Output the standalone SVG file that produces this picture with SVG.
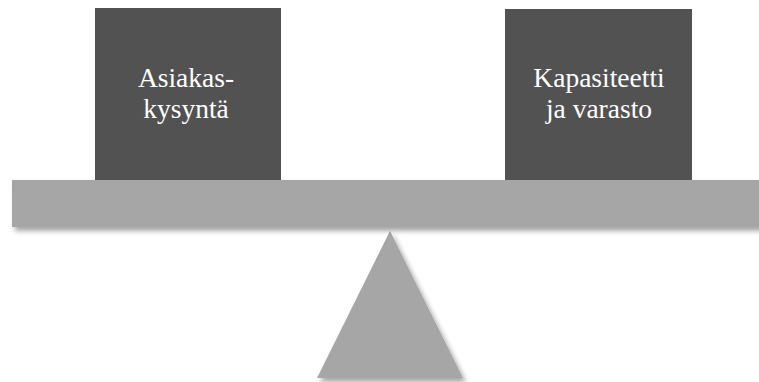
<svg xmlns="http://www.w3.org/2000/svg" width="759" height="382" viewBox="0 0 759 382">
<defs>
<style>
.box{fill:#525252}
.gray{fill:#a6a6a6}
.lbl{font-family:"Liberation Serif","Times New Roman",serif;font-size:27.5px;fill:#ffffff;text-anchor:middle}
</style>
<filter id="sh" x="-10%" y="-10%" width="130%" height="140%">
<feDropShadow dx="3" dy="4" stdDeviation="2.5" flood-color="#000" flood-opacity="0.35"/>
</filter>
</defs>
<g id="support">
<polygon class="gray" filter="url(#sh)" points="390,231 317,378 463,378"/>
</g>
<g id="beam">
<rect class="gray" filter="url(#sh)" x="12" y="180" width="750" height="47"/>
</g>
<g id="node-asiakaskysynta">
<rect class="box" x="95" y="8" width="186" height="172"/>
<text class="lbl" x="186" y="87">Asiakas-</text>
<text class="lbl" x="186" y="118">kysyntä</text>
</g>
<g id="node-kapasiteetti">
<rect class="box" x="505" y="9" width="187" height="171"/>
<text class="lbl" x="599" y="87">Kapasiteetti</text>
<text class="lbl" x="599" y="118">ja varasto</text>
</g>
<g id="connectors"></g>
</svg>
